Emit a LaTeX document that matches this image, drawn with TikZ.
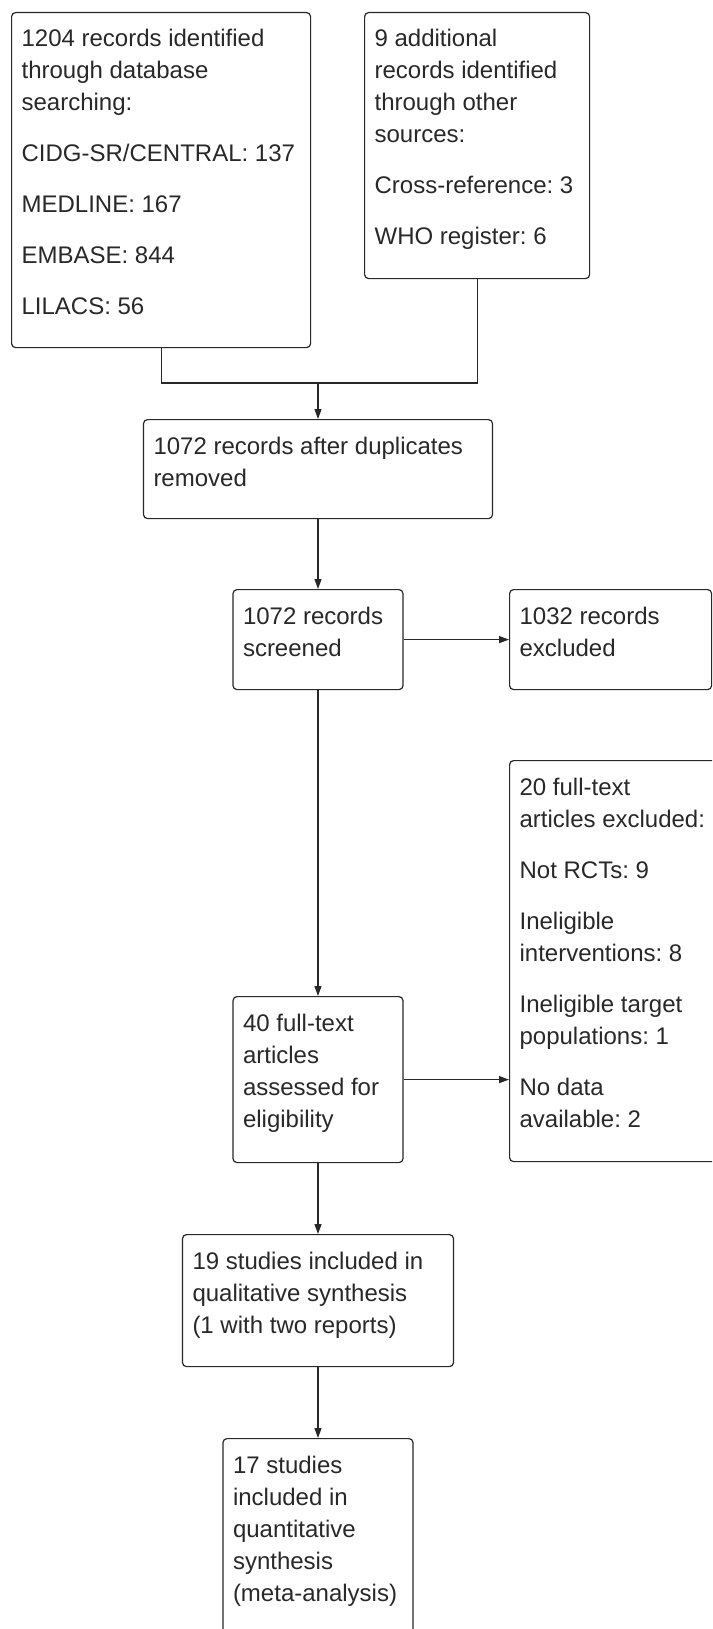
\documentclass[tikz,border=0pt]{standalone}
\usepackage{fontspec}
\setmainfont{Liberation Sans}
\usepackage{tikz}
\usetikzlibrary{arrows.meta,positioning}
\definecolor{ink}{RGB}{40,40,40}
\frenchspacing
\newcommand{\cell}[3]{\parbox[c][\dimexpr#2-24pt\relax][t]{\dimexpr#1-20pt\relax}{\raggedright\strut#3}}
\newcommand{\gap}{\\[19pt]}

\begin{document}
\begin{tikzpicture}[x=1pt, y=-1pt,
  box/.style={draw=ink, line width=1.2pt, rounded corners=4pt, inner xsep=10pt, inner ysep=12pt,
              text=ink, font=\fontsize{24pt}{32pt}\selectfont},
  link/.style={draw=ink, line width=1.2pt},
  arr/.style={link, -{Triangle[length=10pt, width=7pt]}},
]
\useasboundingbox (0,0) rectangle (712,1629);
\clip (0,0) rectangle (712,1629);

% Identification
\node[box, anchor=north west] (dbs) at (11,12)
  {\cell{299pt}{335pt}{1204 records identified\\through database\\searching:\gap CIDG-SR/CENTRAL: 137\gap MEDLINE: 167\gap EMBASE: 844\gap LILACS: 56}};
\node[box, anchor=north west] (other) at (364,12)
  {\cell{225pt}{266pt}{9 additional\\records identified\\through other\\sources:\gap Cross-reference: 3\gap WHO register: 6}};

% Screening
\node[box, anchor=north] (dedup) at (318,419) {\cell{349pt}{99pt}{1072 records after duplicates\\removed}};
\node[box, anchor=north] (screen) at (318,589) {\cell{170pt}{100pt}{1072 records\\screened}};
\node[box, anchor=north west] (excl) at (509,589) {\cell{202pt}{100pt}{1032 records\\excluded}};

% Eligibility
\node[box, anchor=north] (full) at (318,996) {\cell{170pt}{166pt}{40 full-text\\articles\\assessed for\\eligibility}};
\node[box, anchor=north west] (fullexcl) at (509,760)
  {\cell{221pt}{401pt}{20 full-text\\articles excluded:\gap Not RCTs: 9\gap Ineligible\\interventions: 8\gap Ineligible target\\populations: 1\gap No data\\available: 2}};

% Included
\node[box, anchor=north] (qual) at (318,1234) {\cell{271pt}{132pt}{19 studies included in\\qualitative synthesis\\(1 with two reports)}};
\node[box, anchor=north] (quant) at (318,1438) {\cell{190pt}{200pt}{17 studies\\included in\\quantitative\\synthesis\\(meta-analysis)}};

% Connectors
\path (dedup.north) ++(0,-36) coordinate (merge);
\draw[link] (dbs.south) |- (merge) -| (other.south);
\draw[arr] (merge) -- (dedup.north);
\draw[arr] (dedup.south) -- (screen.north);
\draw[arr] (screen.east) -- (excl.west);
\draw[arr] (screen.south) -- (full.north);
\draw[arr] (full.east) -- (full.east -| fullexcl.west);
\draw[arr] (full.south) -- (qual.north);
\draw[arr] (qual.south) -- (quant.north);
\end{tikzpicture}
\end{document}
